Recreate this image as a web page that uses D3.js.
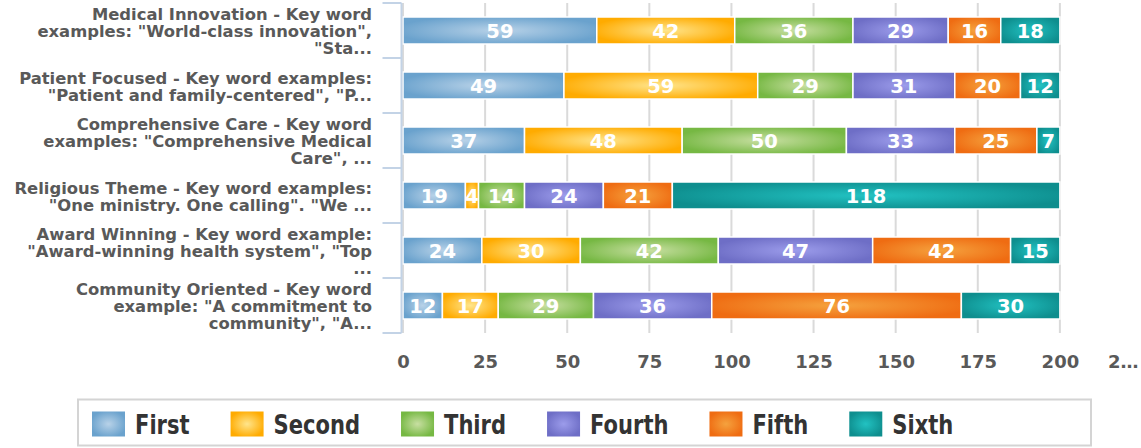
<!DOCTYPE html>
<html>
<head>
<meta charset="utf-8">
<script src="https://cdn.jsdelivr.net/npm/d3@7"></script>
<style>
  body { margin: 0; background: #fff; }
  svg { display: block; }
</style>
</head>
<body>
<div id="chart"></div>
<script>
// categories, each as the wrapped lines of its label
const categories = [
  ["Medical Innovation - Key word", "examples: \"World-class innovation\",", "\"Sta..."],
  ["Patient Focused - Key word examples:", "\"Patient and family-centered\", \"P..."],
  ["Comprehensive Care - Key word", "examples: \"Comprehensive Medical", "Care\", ..."],
  ["Religious Theme - Key word examples:", "\"One ministry. One calling\". \"We ..."],
  ["Award Winning - Key word example:", "\"Award-winning health system\", \"Top", "..."],
  ["Community Oriented - Key word", "example: \"A commitment to", "community\", \"A..."]
];
const seriesNames = ["First", "Second", "Third", "Fourth", "Fifth", "Sixth"];
const first  = [59, 49, 37, 19, 24, 12];
const second = [42, 59, 48, 4, 30, 17];
const third  = [36, 29, 50, 14, 42, 29];
const fourth = [29, 31, 33, 24, 47, 36];
const fifth  = [16, 20, 25, 21, 42, 76];
const sixth  = [18, 12, 7, 118, 15, 30];
const xTicks = [0, 25, 50, 75, 100, 125, 150, 175, 200, 225];

const seriesValues = [first, second, third, fourth, fifth, sixth];
// [edge colour, centre highlight]
const colors = [
  ["#6aa2cd", "#b8d2e8"],
  ["#ffab00", "#ffe58c"],
  ["#76b843", "#c8dfa2"],
  ["#6e6ec6", "#9c9ceb"],
  ["#ef6c12", "#f5a23e"],
  ["#0e8e8e", "#22c2c2"]
];

const W = 1141, H = 448;
const svg = d3.select("#chart").append("svg")
  .attr("width", W).attr("height", H)
  .style("font-family", "'DejaVu Sans', sans-serif");

const defs = svg.append("defs");
colors.forEach((c, i) => {
  const g = defs.append("radialGradient").attr("id", "grad" + i)
    .attr("cx", "50%").attr("cy", "50%").attr("r", "55%");
  g.append("stop").attr("offset", "0%").attr("stop-color", c[1]);
  g.append("stop").attr("offset", "100%").attr("stop-color", c[0]);
});

const x = d3.scaleLinear().domain([0, 225]).range([403, 1142]);
const y = d3.scaleBand().domain(d3.range(categories.length)).range([3, 333]).padding(0);
const barH = 27;

// grid lines
svg.append("g").selectAll("line")
  .data(xTicks)
  .join("line")
    .attr("x1", d => x(d)).attr("x2", d => x(d))
    .attr("y1", 3).attr("y2", 333)
    .attr("stroke", "#dadada")
    .attr("stroke-width", 2);

// stacked rows
const rows = categories.map((c, i) => {
  const r = { idx: i };
  seriesNames.forEach((s, k) => r[s] = seriesValues[k][i]);
  return r;
});
const stacked = d3.stack().keys(seriesNames)(rows);

const layer = svg.append("g").selectAll("g")
  .data(stacked)
  .join("g")
    .attr("fill", (d, i) => `url(#grad${i})`);

layer.selectAll("rect")
  .data(d => d)
  .join("rect")
    .attr("x", d => x(d[0]))
    .attr("y", d => y(d.data.idx) + (y.bandwidth() - barH) / 2)
    .attr("width", d => x(d[1]) - x(d[0]))
    .attr("height", barH)
    .attr("stroke", "#fff")
    .attr("stroke-width", 1.5);

layer.selectAll("text")
  .data(d => d)
  .join("text")
    .attr("x", d => (x(d[0]) + x(d[1])) / 2)
    .attr("y", d => y(d.data.idx) + y.bandwidth() / 2)
    .attr("dy", "0.36em")
    .attr("text-anchor", "middle")
    .attr("fill", "#fff")
    .style("font-size", "19.5px")
    .style("font-weight", "bold")
    .text(d => d[1] - d[0]);

// y axis
const yAxis = svg.append("g").attr("transform", "translate(401.5,0)");
yAxis.append("line")
  .attr("y1", 3).attr("y2", 333)
  .attr("stroke", "#c3d3e6").attr("stroke-width", 2);
yAxis.selectAll(".tk")
  .data(d3.range(categories.length + 1))
  .join("line")
    .attr("class", "tk")
    .attr("x1", -19).attr("x2", 0)
    .attr("y1", d => d < categories.length ? y(d) : 333)
    .attr("y2", d => d < categories.length ? y(d) : 333)
    .attr("stroke", "#c3d3e6").attr("stroke-width", 2);

// category labels
const lineH = 17;
svg.append("g").selectAll("text")
  .data(categories)
  .join("text")
    .attr("text-anchor", "end")
    .attr("fill", "#595959")
    .style("font-size", "16.4px")
    .style("font-weight", "bold")
    .each(function(lines, i) {
      const cy = y(i) + y.bandwidth() / 2 + 1;
      const top = cy - (lines.length - 1) * lineH / 2;
      d3.select(this).selectAll("tspan")
        .data(lines)
        .join("tspan")
          .attr("x", 372)
          .attr("y", (l, j) => top + j * lineH)
          .attr("dy", "0.36em")
          .text(l => l);
    });

// x axis labels
const xAxis = svg.append("g")
  .attr("transform", "translate(0,355)")
  .call(d3.axisBottom(x).tickValues(xTicks).tickSize(0).tickPadding(0)
    .tickFormat(d => d === 225 ? "2…" : d));
xAxis.select(".domain").remove();
xAxis.selectAll("text")
  .attr("fill", "#595959")
  .style("font-family", "'DejaVu Sans', sans-serif")
  .style("font-size", "18px")
  .style("font-weight", "bold");
xAxis.selectAll(".tick").filter(d => d === 225).select("text")
  .attr("text-anchor", "end").attr("x", 1138 - x(225));

// legend
const legend = svg.append("g");
legend.append("rect")
  .attr("x", 78).attr("y", 399.5).attr("width", 1013).attr("height", 46)
  .attr("fill", "#fff").attr("stroke", "#d4d4d4").attr("stroke-width", 2);
const squeeze = 0.78;
let lx = 92;
seriesNames.forEach((s, i) => {
  const item = legend.append("g").attr("transform", `translate(${lx},0)`);
  item.append("rect")
    .attr("x", 0).attr("y", 411.5).attr("width", 33).attr("height", 25)
    .attr("fill", `url(#grad${i})`);
  const t = item.append("text")
    .attr("transform", `translate(43,424) scale(${squeeze},1)`)
    .attr("dy", "0.36em")
    .attr("fill", "#333")
    .style("font-size", "27px")
    .style("font-weight", "bold")
    .text(s);
  lx += 43 + t.node().getComputedTextLength() * squeeze + 41;
});
</script>
</body>
</html>
